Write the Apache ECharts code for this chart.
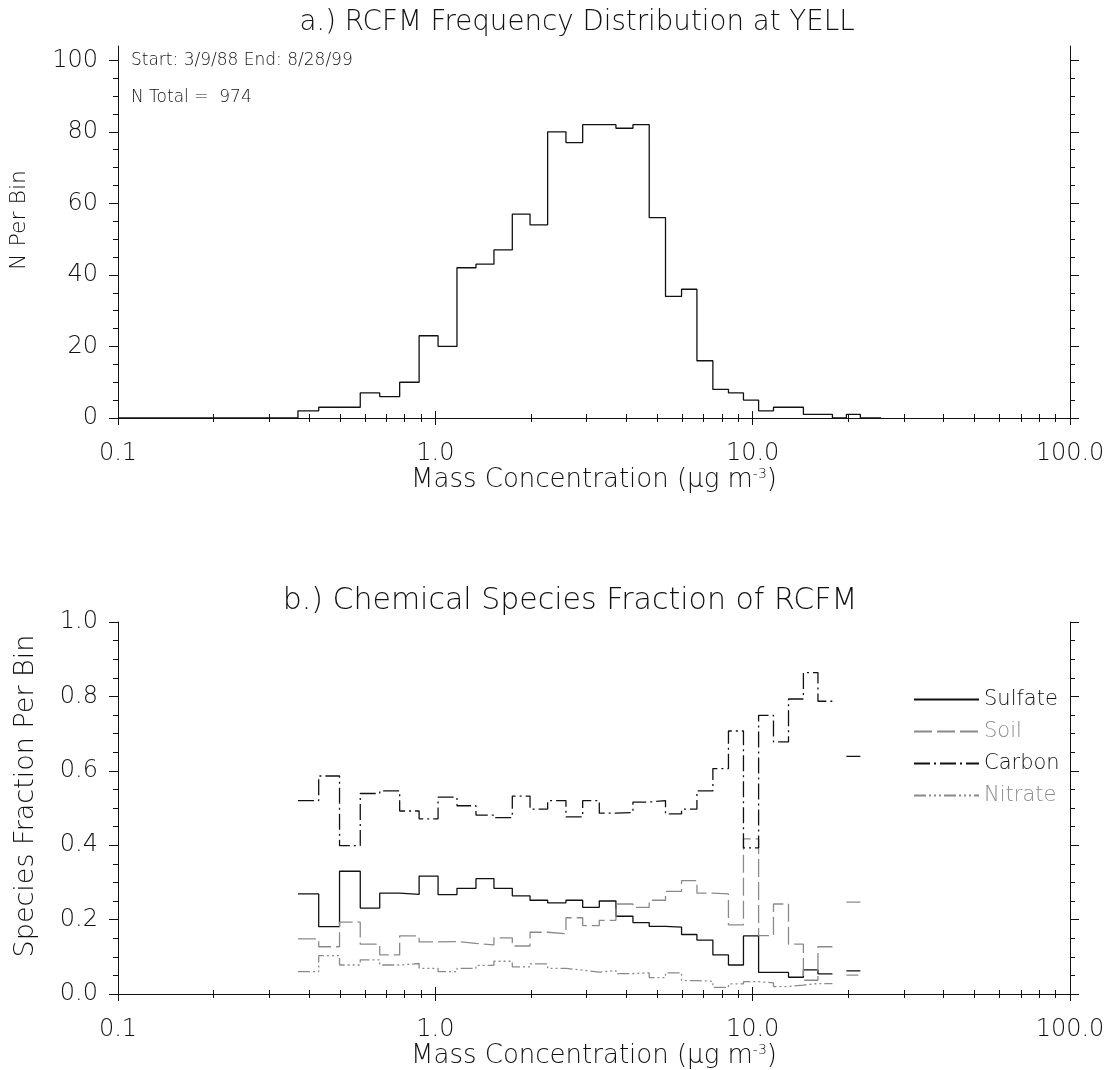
<!DOCTYPE html>
<html>
<head>
<meta charset="utf-8">
<script src="https://cdn.jsdelivr.net/npm/echarts@6/dist/echarts.min.js"></script>
<style>
html,body{margin:0;padding:0;background:#fff;}
#chart{width:1112px;height:1070px;}
</style>
</head>
<body>
<div id="chart"></div>
<script>
// ---- DATA ----
// Bin edges of mass concentration (ug m-3); the first bin (0.1 - 0.369) is empty
const binEdges = [0.1, 0.369, 0.429, 0.499, 0.580, 0.668, 0.772, 0.889, 1.020, 1.170, 1.343,
  1.530, 1.748, 1.988, 2.259, 2.580, 2.913, 3.286, 3.708, 4.195, 4.721, 5.313, 5.969, 6.673,
  7.492, 8.389, 9.354, 10.44, 11.63, 12.97, 14.45, 16.06, 17.84, 19.74, 21.85, 25.4];
// N per bin (total 974)
const countsPerBin = [0, 2, 3, 3, 7, 6, 10, 23, 20, 42, 43, 47, 57, 54, 80, 77, 82, 82, 81, 82,
  56, 34, 36, 16, 8, 7, 5, 2, 3, 3, 1, 1, 0, 1, 0];
// Species fraction per bin (null = no samples)
const sulfateFrac = [null, 0.269, 0.181, 0.330, 0.231, 0.271, 0.268, 0.317, 0.267, 0.284, 0.310,
  0.284, 0.264, 0.252, 0.245, 0.252, 0.233, 0.250, 0.209, 0.192, 0.182, 0.180, 0.160, 0.145,
  0.105, 0.078, 0.156, 0.058, 0.058, 0.045, 0.065, 0.054, null, 0.062, null];
const soilFrac = [null, 0.148, 0.127, 0.193, 0.134, 0.105, 0.156, 0.140, 0.141, 0.136, 0.132,
  0.151, 0.129, 0.166, 0.162, 0.205, 0.184, 0.198, 0.242, 0.233, 0.252, 0.276, 0.305, 0.271,
  0.269, 0.186, 0.417, 0.157, 0.242, 0.134, 0.037, 0.127, null, 0.247, null];
const carbonFrac = [null, 0.520, 0.586, 0.399, 0.539, 0.546, 0.492, 0.471, 0.529, 0.506, 0.481,
  0.474, 0.532, 0.497, 0.520, 0.476, 0.520, 0.486, 0.488, 0.516, 0.520, 0.484, 0.497, 0.546,
  0.606, 0.707, 0.393, 0.749, 0.678, 0.793, 0.864, 0.787, null, 0.639, null];
const nitrateFrac = [null, 0.060, 0.103, 0.078, 0.092, 0.078, 0.082, 0.069, 0.060, 0.069, 0.077,
  0.088, 0.073, 0.081, 0.069, 0.064, 0.059, 0.063, 0.055, 0.057, 0.044, 0.057, 0.036, 0.034,
  0.018, 0.027, 0.033, 0.030, 0.020, 0.024, 0.028, 0.028, null, 0.051, null];

// Tick values
const xMajorTicks = [0.1, 1, 10, 100];
const xMinorTicks = [0.2,0.3,0.4,0.5,0.6,0.7,0.8,0.9, 2,3,4,5,6,7,8,9, 20,30,40,50,60,70,80,90];
const yTopMajor = [0, 20, 40, 60, 80, 100];
const yTopMinor = [5,10,15,25,30,35,45,50,55,65,70,75,85,90,95];
const yBotMajor = [0, 0.2, 0.4, 0.6, 0.8, 1.0];
const yBotMinor = [0.05,0.1,0.15,0.25,0.3,0.35,0.45,0.5,0.55,0.65,0.7,0.75,0.85,0.9,0.95];

const titleA = 'a.) RCFM Frequency Distribution at YELL';
const titleB = 'b.) Chemical Species Fraction of RCFM';
const startText = 'Start: 3/9/88 End: 8/28/99';
const totalText = 'N Total =  974';

// ---- helpers ----
function stepPoints(vals) {
  const pts = [];
  for (let i = 0; i < vals.length; i++) {
    if (vals[i] === null) { pts.push([binEdges[i], '-']); continue; }
    pts.push([binEdges[i], vals[i]], [binEdges[i + 1], vals[i]]);
  }
  return pts;
}

const FONT = 'DejaVu Sans';
const FW = 200;
const INK = '#111';
const GRAY = '#8a8a8a';
const axisLineStyle = { color: '#111', width: 1 };

function xAxesFor(gi) {
  const base = { type: 'log', logBase: 10, min: 0.1, max: 100, gridIndex: gi, splitLine: { show: false } };
  const nameRich = {
    mu: { fontFamily: FONT, fontWeight: FW, fontSize: 26, color: INK },
    sup: { fontFamily: FONT, fontWeight: FW, fontSize: 14, color: INK, verticalAlign: 'top', padding: [0, 0, 12, 0] }
  };
  return [
    Object.assign({}, base, {
      position: 'bottom',
      axisLine: { show: true, lineStyle: axisLineStyle },
      axisTick: { show: true, inside: false, length: 7, customValues: xMajorTicks, lineStyle: axisLineStyle },
      axisLabel: { show: true, customValues: xMajorTicks, margin: 24, fontFamily: FONT, fontWeight: FW, fontSize: 24, color: INK,
        formatter: v => Number(v).toFixed(1) },
      name: 'Mass Concentration ({mu|μ}g m{sup|-3})',
      nameLocation: 'middle', nameGap: 41,
      nameTextStyle: { fontFamily: FONT, fontWeight: FW, fontSize: 26, color: INK, rich: nameRich }
    }),
    Object.assign({}, base, {
      position: 'bottom',
      axisLine: { show: false },
      axisTick: { show: true, inside: false, length: 4, customValues: xMinorTicks, lineStyle: axisLineStyle },
      axisLabel: { show: false }
    }),
    Object.assign({}, base, {
      position: 'top',
      axisLine: { show: true, lineStyle: axisLineStyle },
      axisTick: { show: true, inside: false, length: 7, customValues: xMajorTicks, lineStyle: axisLineStyle },
      axisLabel: { show: false }
    }),
    Object.assign({}, base, {
      position: 'top',
      axisLine: { show: false },
      axisTick: { show: true, inside: false, length: 4, customValues: xMinorTicks, lineStyle: axisLineStyle },
      axisLabel: { show: false }
    })
  ];
}

function yAxesFor(gi, min, max, major, minor, fmt, name, gap, nameSize) {
  const base = { type: 'value', min: min, max: max, gridIndex: gi, splitLine: { show: false } };
  return [
    Object.assign({}, base, {
      position: 'left',
      axisLine: { show: true, lineStyle: axisLineStyle },
      axisTick: { show: true, inside: false, length: 9, customValues: major, lineStyle: axisLineStyle },
      axisLabel: { show: true, customValues: major, margin: 20, fontFamily: FONT, fontWeight: FW, fontSize: 24, color: INK, formatter: fmt },
      name: name, nameLocation: 'middle', nameGap: gap, nameRotate: 90,
      nameTextStyle: { fontFamily: FONT, fontWeight: FW, fontSize: nameSize, color: INK, padding: [0, 0, 0, 24] }
    }),
    Object.assign({}, base, {
      position: 'left',
      axisLine: { show: false },
      axisTick: { show: true, inside: false, length: 5, customValues: minor, lineStyle: axisLineStyle },
      axisLabel: { show: false }
    }),
    Object.assign({}, base, {
      position: 'right',
      axisLine: { show: true, lineStyle: axisLineStyle },
      axisTick: { show: true, inside: false, length: 9, customValues: major, lineStyle: axisLineStyle },
      axisLabel: { show: false }
    }),
    Object.assign({}, base, {
      position: 'right',
      axisLine: { show: false },
      axisTick: { show: true, inside: false, length: 5, customValues: minor, lineStyle: axisLineStyle },
      axisLabel: { show: false }
    })
  ];
}

function stepSeries(name, vals, color, type, xi, yi) {
  return {
    name: name, type: 'line', xAxisIndex: xi, yAxisIndex: yi,
    data: stepPoints(vals), showSymbol: false, symbol: 'none',
    connectNulls: false, animation: false,
    lineStyle: { color: color, width: 1.3, type: type },
    itemStyle: { color: color },
    emphasis: { disabled: true }
  };
}

const chart = echarts.init(document.getElementById('chart'), null, { renderer: 'canvas' });

const option = {
  backgroundColor: '#fff',
  animation: false,
  grid: [
    { left: 118, right: 42, top: 46, height: 372 },
    { left: 118, right: 42, top: 622, height: 372 }
  ],
  xAxis: [].concat(xAxesFor(0), xAxesFor(1)),
  yAxis: [].concat(
    yAxesFor(0, 0, 104, yTopMajor, yTopMinor, v => String(Math.round(v)), 'N Per Bin', 88, 22),
    yAxesFor(1, 0, 1, yBotMajor, yBotMinor, v => Number(v).toFixed(1), 'Species Fraction Per Bin', 79, 27)
  ),
  legend: {
    orient: 'vertical', left: 913, top: 689,
    itemWidth: 65, itemHeight: 14, itemGap: 11, padding: 0,
    selectedMode: false,
    itemStyle: { opacity: 0, borderWidth: 0 },
    textStyle: { fontFamily: FONT, fontWeight: FW, fontSize: 21 },
    data: [
      { name: 'Sulfate', textStyle: { color: INK } },
      { name: 'Soil', textStyle: { color: GRAY } },
      { name: 'Carbon', textStyle: { color: INK } },
      { name: 'Nitrate', textStyle: { color: GRAY } }
    ]
  },
  series: [
    stepSeries('Count', countsPerBin, INK, 'solid', 0, 0),
    stepSeries('Sulfate', sulfateFrac, INK, 'solid', 4, 4),
    stepSeries('Soil', soilFrac, GRAY, [18, 5], 4, 4),
    stepSeries('Carbon', carbonFrac, INK, [16, 4, 2, 4], 4, 4),
    stepSeries('Nitrate', nitrateFrac, GRAY, [12, 3, 2, 3, 2, 3, 2, 3], 4, 4)
  ],
  graphic: [
    { type: 'text', x: 577, y: 23, silent: true,
      style: { text: titleA, fontFamily: FONT, fontWeight: FW, fontSize: 27.7, fill: INK, align: 'center', verticalAlign: 'middle', textAlign: 'center', textVerticalAlign: 'middle' } },
    { type: 'text', x: 570, y: 601, silent: true,
      style: { text: titleB, fontFamily: FONT, fontWeight: FW, fontSize: 30, fill: INK, align: 'center', verticalAlign: 'middle', textAlign: 'center', textVerticalAlign: 'middle' } },
    { type: 'text', x: 131, y: 61, silent: true,
      style: { text: startText, fontFamily: FONT, fontWeight: FW, fontSize: 17, fill: INK, align: 'left', verticalAlign: 'middle', textAlign: 'left', textVerticalAlign: 'middle' } },
    { type: 'text', x: 131, y: 98, silent: true,
      style: { text: totalText, fontFamily: FONT, fontWeight: FW, fontSize: 17, fill: INK, align: 'left', verticalAlign: 'middle', textAlign: 'left', textVerticalAlign: 'middle' } }
  ]
};
chart.setOption(option);
</script>
</body>
</html>
